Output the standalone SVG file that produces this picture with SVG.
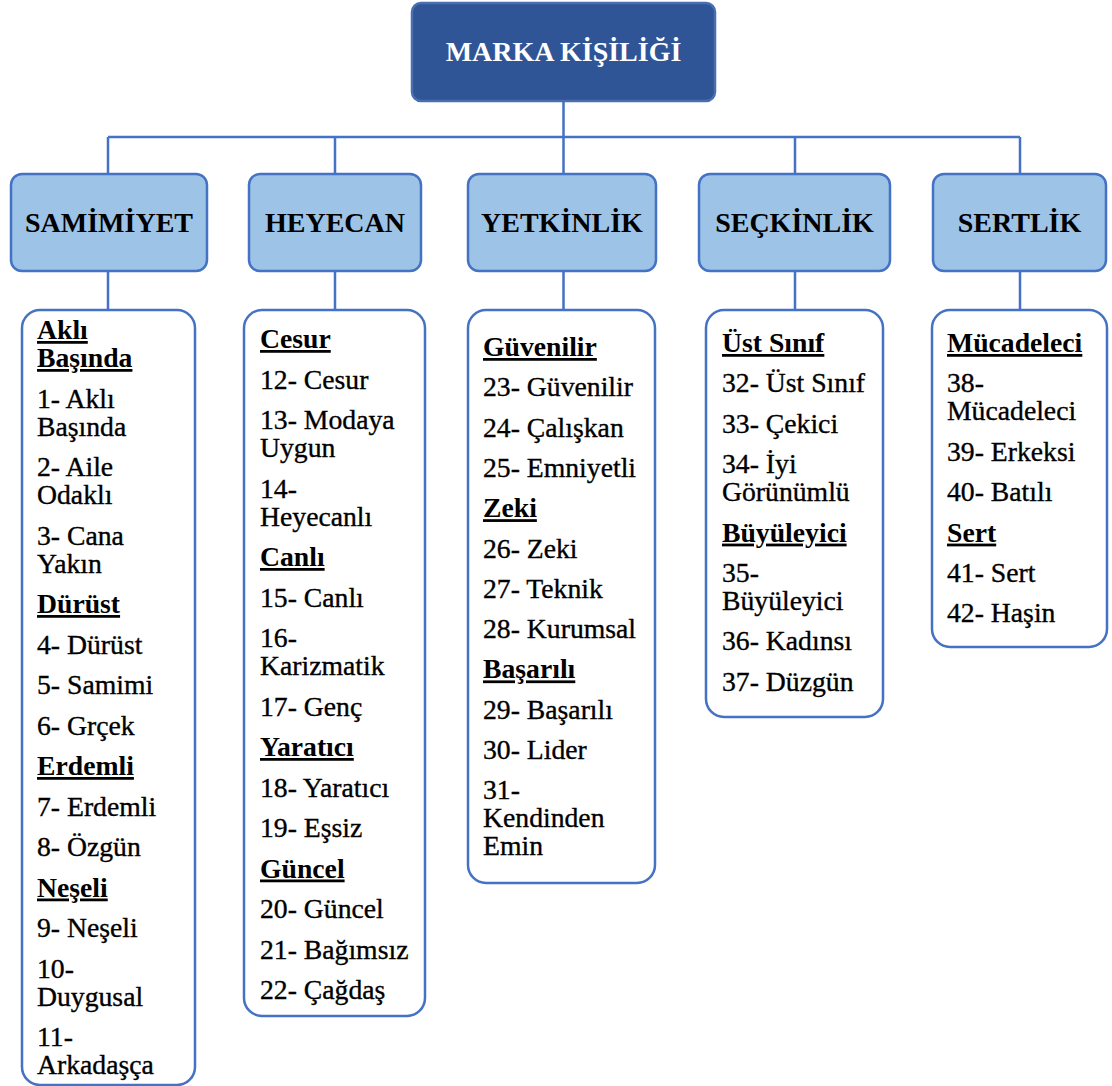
<svg xmlns="http://www.w3.org/2000/svg" width="1112" height="1086" viewBox="0 0 1112 1086">
<style>
.conn{stroke:#4472C4;stroke-width:2.5;fill:none}
.root{fill:#2F5597;stroke:#4A6EB0;stroke-width:2.5}
.cat{fill:#9DC3E6;stroke:#4472C4;stroke-width:2.5}
.list{fill:#FFFFFF;stroke:#4472C4;stroke-width:2.5}
.tt{font-family:"Liberation Serif","Times New Roman",serif;font-weight:bold;font-size:28px;fill:#FFFFFF;text-anchor:middle}
.ct{font-family:"Liberation Serif","Times New Roman",serif;font-weight:bold;font-size:28px;fill:#000;text-anchor:middle}
.it{font-family:"Liberation Serif","Times New Roman",serif;font-size:27.7px;fill:#000;stroke:#000;stroke-width:0.35}
.hd{font-weight:bold;text-decoration:underline;stroke:none}
</style>
<rect width="1112" height="1086" fill="#FFFFFF"/>
<g id="connectors">
<path class="conn" d="M563.5 101V137M108 137H1020M108 137V174M335 137V174M563.5 137V174M795 137V174M1020 137V174"/>
<path class="conn" d="M108 271V310M335 271V310M563.5 271V310M795 271V310M1020 271V310"/>
</g>
<g id="root">
<rect class="root" x="412" y="3" width="303" height="98" rx="9"/>
<text class="tt" x="563.5" y="61">MARKA KİŞİLİĞİ</text>
</g>
<g id="samimiyet">
<rect class="cat" x="11" y="174" width="196" height="97" rx="11"/>
<text class="ct" x="109" y="232">SAMİMİYET</text>
</g>
<g id="heyecan">
<rect class="cat" x="249" y="174" width="172" height="97" rx="11"/>
<text class="ct" x="335" y="232">HEYECAN</text>
</g>
<g id="yetkinlik">
<rect class="cat" x="468" y="174" width="188" height="97" rx="11"/>
<text class="ct" x="562" y="232">YETKİNLİK</text>
</g>
<g id="seckinlik">
<rect class="cat" x="699" y="174" width="191" height="97" rx="11"/>
<text class="ct" x="794.5" y="232">SEÇKİNLİK</text>
</g>
<g id="sertlik">
<rect class="cat" x="933" y="174" width="173" height="97" rx="11"/>
<text class="ct" x="1019.5" y="232">SERTLİK</text>
</g>
<g id="list-samimiyet">
<rect class="list" x="22" y="310" width="173" height="775" rx="18"/>
<text class="it" x="37">
<tspan class="hd" x="37" y="339">Aklı</tspan>
<tspan class="hd" x="37" y="367">Başında</tspan>
<tspan x="37" y="407.5">1- Aklı</tspan>
<tspan x="37" y="435.5">Başında</tspan>
<tspan x="37" y="476">2- Aile</tspan>
<tspan x="37" y="504">Odaklı</tspan>
<tspan x="37" y="544.5">3- Cana</tspan>
<tspan x="37" y="572.5">Yakın</tspan>
<tspan class="hd" x="37" y="613">Dürüst</tspan>
<tspan x="37" y="653.5">4- Dürüst</tspan>
<tspan x="37" y="694">5- Samimi</tspan>
<tspan x="37" y="734.5">6- Grçek</tspan>
<tspan class="hd" x="37" y="775">Erdemli</tspan>
<tspan x="37" y="815.5">7- Erdemli</tspan>
<tspan x="37" y="856">8- Özgün</tspan>
<tspan class="hd" x="37" y="896.5">Neşeli</tspan>
<tspan x="37" y="937">9- Neşeli</tspan>
<tspan x="37" y="977.5">10-</tspan>
<tspan x="37" y="1005.5">Duygusal</tspan>
<tspan x="37" y="1046">11-</tspan>
<tspan x="37" y="1074">Arkadaşça</tspan>
</text>
</g>
<g id="list-heyecan">
<rect class="list" x="244" y="310" width="181" height="706" rx="18"/>
<text class="it" x="260">
<tspan class="hd" x="260" y="348">Cesur</tspan>
<tspan x="260" y="388.5">12- Cesur</tspan>
<tspan x="260" y="429">13- Modaya</tspan>
<tspan x="260" y="457">Uygun</tspan>
<tspan x="260" y="497.5">14-</tspan>
<tspan x="260" y="525.5">Heyecanlı</tspan>
<tspan class="hd" x="260" y="566">Canlı</tspan>
<tspan x="260" y="606.5">15- Canlı</tspan>
<tspan x="260" y="647">16-</tspan>
<tspan x="260" y="675">Karizmatik</tspan>
<tspan x="260" y="715.5">17- Genç</tspan>
<tspan class="hd" x="260" y="756">Yaratıcı</tspan>
<tspan x="260" y="796.5">18- Yaratıcı</tspan>
<tspan x="260" y="837">19- Eşsiz</tspan>
<tspan class="hd" x="260" y="877.5">Güncel</tspan>
<tspan x="260" y="918">20- Güncel</tspan>
<tspan x="260" y="958.5">21- Bağımsız</tspan>
<tspan x="260" y="999">22- Çağdaş</tspan>
</text>
</g>
<g id="list-yetkinlik">
<rect class="list" x="468" y="310" width="187" height="573" rx="18"/>
<text class="it" x="483">
<tspan class="hd" x="483" y="356">Güvenilir</tspan>
<tspan x="483" y="396.3">23- Güvenilir</tspan>
<tspan x="483" y="436.6">24- Çalışkan</tspan>
<tspan x="483" y="476.9">25- Emniyetli</tspan>
<tspan class="hd" x="483" y="517.2">Zeki</tspan>
<tspan x="483" y="557.5">26- Zeki</tspan>
<tspan x="483" y="597.8">27- Teknik</tspan>
<tspan x="483" y="638.1">28- Kurumsal</tspan>
<tspan class="hd" x="483" y="678.4">Başarılı</tspan>
<tspan x="483" y="718.7">29- Başarılı</tspan>
<tspan x="483" y="759">30- Lider</tspan>
<tspan x="483" y="799.3">31-</tspan>
<tspan x="483" y="827.3">Kendinden</tspan>
<tspan x="483" y="855.3">Emin</tspan>
</text>
</g>
<g id="list-seckinlik">
<rect class="list" x="706" y="310" width="177" height="407" rx="18"/>
<text class="it" x="722">
<tspan class="hd" x="722" y="352">Üst Sınıf</tspan>
<tspan x="722" y="392.4">32- Üst Sınıf</tspan>
<tspan x="722" y="432.8">33- Çekici</tspan>
<tspan x="722" y="473.2">34- İyi</tspan>
<tspan x="722" y="501.2">Görünümlü</tspan>
<tspan class="hd" x="722" y="541.6">Büyüleyici</tspan>
<tspan x="722" y="582">35-</tspan>
<tspan x="722" y="610">Büyüleyici</tspan>
<tspan x="722" y="650.4">36- Kadınsı</tspan>
<tspan x="722" y="690.8">37- Düzgün</tspan>
</text>
</g>
<g id="list-sertlik">
<rect class="list" x="932" y="310" width="175" height="337" rx="18"/>
<text class="it" x="947">
<tspan class="hd" x="947" y="352">Mücadeleci</tspan>
<tspan x="947" y="392.4">38-</tspan>
<tspan x="947" y="420.4">Mücadeleci</tspan>
<tspan x="947" y="460.8">39- Erkeksi</tspan>
<tspan x="947" y="501.2">40- Batılı</tspan>
<tspan class="hd" x="947" y="541.6">Sert</tspan>
<tspan x="947" y="582">41- Sert</tspan>
<tspan x="947" y="622.4">42- Haşin</tspan>
</text>
</g>
</svg>
